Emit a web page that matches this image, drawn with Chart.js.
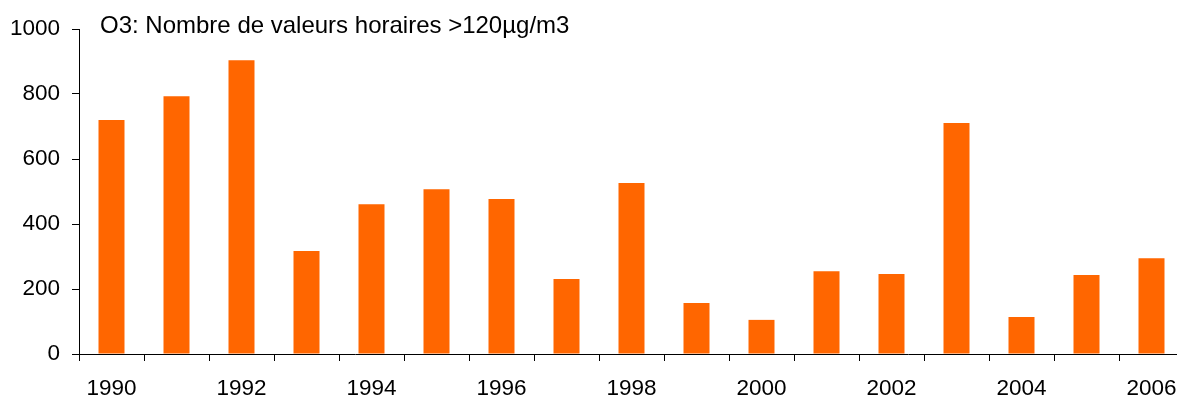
<!DOCTYPE html>
<html>
<head>
<meta charset="utf-8">
<script src="https://cdn.jsdelivr.net/npm/chart.js@4"></script>
<style>
  html, body { margin: 0; padding: 0; background: #fff; overflow: hidden; }
  #c { display: block; }
</style>
</head>
<body>
<canvas id="c" width="1185" height="399" style="width:1185px;height:399px"></canvas>
<script>
const titleText = "O3: Nombre de valeurs horaires >120µg/m3";
const years = ["1990","1991","1992","1993","1994","1995","1996","1997","1998","1999","2000","2001","2002","2003","2004","2005","2006"];
const hoursAbove120 = [720, 793, 904, 317, 461, 507, 477, 231, 526, 157, 105, 255, 246, 711, 114, 243, 295];
const yTicks = [0, 200, 400, 600, 800, 1000];

const FONT = "'Liberation Sans', Arial, sans-serif";

const titlePlugin = {
  id: 'insideTitle',
  afterDraw(chart) {
    const ctx = chart.ctx;
    ctx.save();
    ctx.font = "24px " + FONT;
    ctx.fillStyle = "#000";
    ctx.textAlign = "left";
    ctx.textBaseline = "alphabetic";
    ctx.fillText(titleText, 100, 33);
    ctx.restore();
  }
};

new Chart(document.getElementById('c'), {
  type: 'bar',
  data: {
    labels: years,
    datasets: [{
      data: hoursAbove120,
      backgroundColor: '#FF6600',
      borderWidth: 0,
      categoryPercentage: 1.0,
      barPercentage: 0.4
    }]
  },
  options: {
    responsive: false,
    devicePixelRatio: 1,
    animation: false,
    events: [],
    layout: { padding: { top: 29, right: 1, left: 0, bottom: 0 } },
    plugins: { legend: { display: false }, tooltip: { enabled: false } },
    scales: {
      x: {
        offset: true,
        grid: { display: true, offset: true, drawOnChartArea: false, drawTicks: true, tickLength: 7, color: '#000', lineWidth: 1 },
        border: { display: true, color: '#000', width: 1 },
        ticks: {
          autoSkip: false, maxRotation: 0, minRotation: 0,
          color: '#000', font: { family: FONT, size: 22.5 }, padding: 14,
          callback: (v, i) => (i % 2 === 0 ? years[i] : '')
        },
        afterFit: (s) => { s.height = 45; s.paddingLeft = 0; s.paddingRight = 0; }
      },
      y: {
        min: 0, max: 1000,
        afterBuildTicks: (s) => { s.ticks = yTicks.map(v => ({ value: v })); },
        grid: { display: true, drawOnChartArea: false, drawTicks: true, tickLength: 7, color: '#000', lineWidth: 1 },
        border: { display: true, color: '#000', width: 1 },
        ticks: { color: '#000', font: { family: FONT, size: 22.5 }, padding: 12, callback: (v) => String(v) },
        afterFit: (s) => { s.width = 79; }
      }
    }
  },
  plugins: [titlePlugin]
});
</script>
</body>
</html>
